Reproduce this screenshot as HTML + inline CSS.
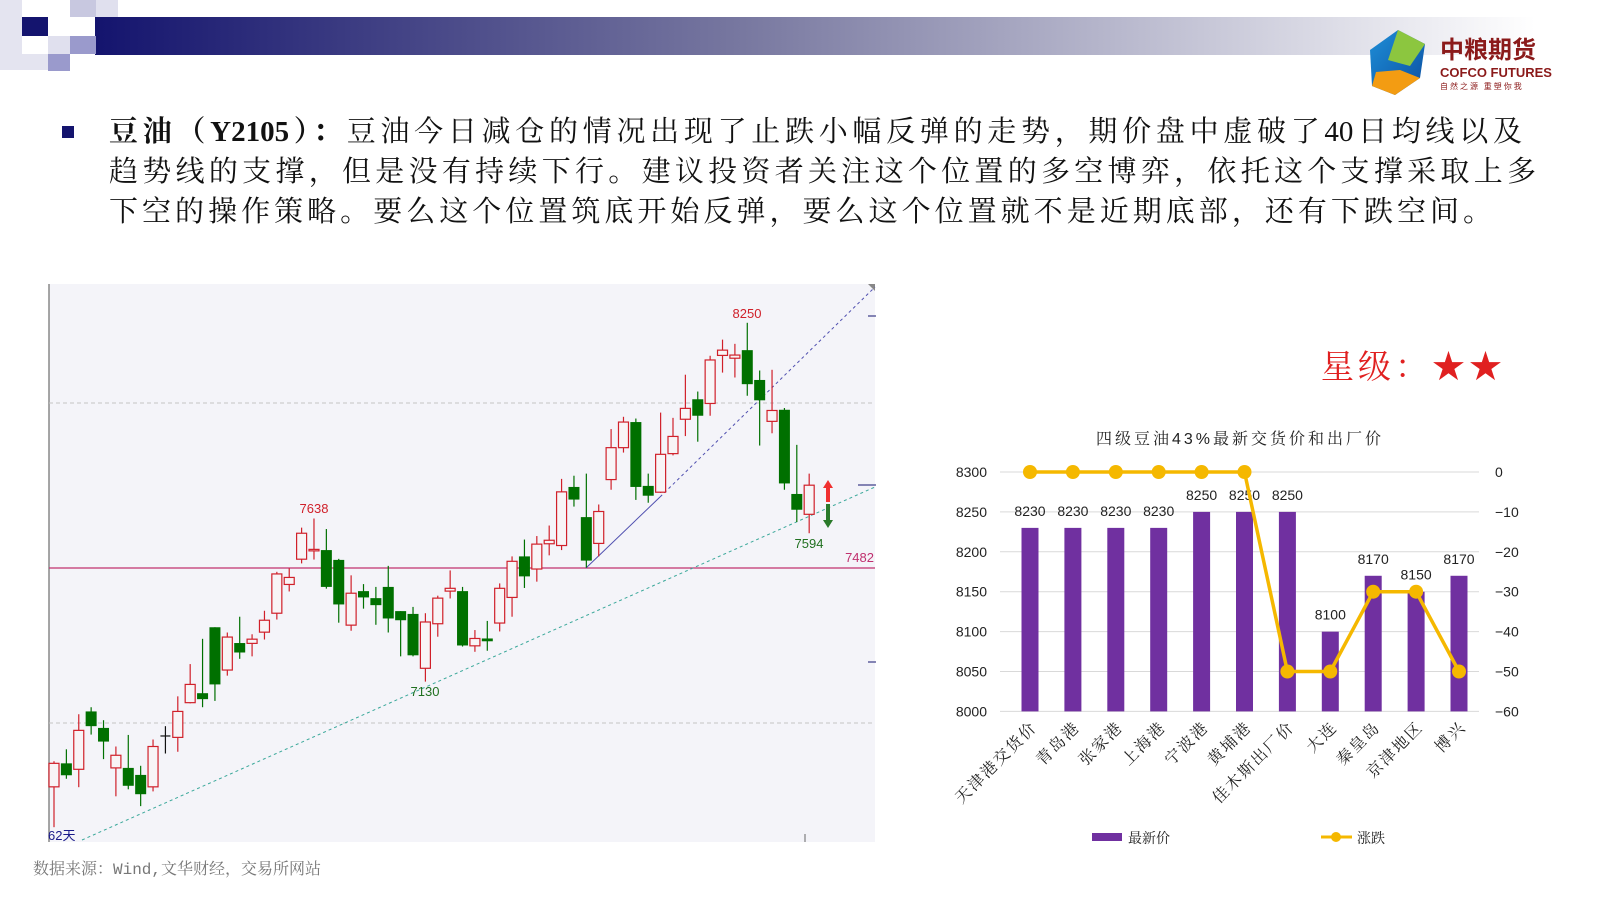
<!DOCTYPE html>
<html><head><meta charset="utf-8">
<style>
html,body{margin:0;padding:0;background:#fff;}
body{width:1600px;height:900px;overflow:hidden;position:relative;font-family:"Liberation Sans","Noto Sans CJK SC",sans-serif;}
.ln{position:absolute;left:109px;font-family:"Liberation Serif","Noto Serif CJK SC",serif;font-size:29px;color:#111;text-align:justify;text-align-last:justify;white-space:nowrap;height:40px;line-height:40px;}
</style></head>
<body>
<svg width="1600" height="900" style="position:absolute;left:0;top:0" xmlns="http://www.w3.org/2000/svg" id="s">
<defs>
<linearGradient id="hg" x1="0" x2="1" y1="0" y2="0">
<stop offset="0" stop-color="#14146e"/><stop offset="0.45" stop-color="#7878a0"/><stop offset="1" stop-color="#ffffff"/>
</linearGradient>
<linearGradient id="lg1" x1="0" x2="1" y1="0" y2="1"><stop offset="0" stop-color="#1e8fd8"/><stop offset="1" stop-color="#0b4ea0"/></linearGradient>
</defs>
<!-- header -->
<rect x="95" y="17" width="1440" height="38" fill="url(#hg)"/>
<rect x="0" y="0" width="22" height="70" fill="#e4e4f0"/>
<rect x="22" y="17" width="26" height="19" fill="#14146e"/>
<rect x="70" y="0" width="26" height="17" fill="#c8c8e0"/>
<rect x="96" y="0" width="22" height="17" fill="#e0e0ee"/>
<rect x="70" y="36" width="26" height="18" fill="#9a9acc"/>
<rect x="48" y="36" width="22" height="18" fill="#e0e0ee"/>
<rect x="48" y="54" width="22" height="17" fill="#9a9acc"/>
<rect x="22" y="54" width="26" height="16" fill="#e4e4f0"/>
<!-- logo -->
<polygon points="1398,30 1425,44 1420,78 1395,95 1372,86 1370,50" fill="url(#lg1)"/>
<polygon points="1398,30 1425,44 1410,66 1388,60" fill="#8cc63f"/>
<polygon points="1372,86 1395,95 1420,78 1400,70 1376,72" fill="#f39c12"/>
<text x="1440" y="58" font-size="24" font-weight="bold" fill="#8b1a1a" font-family="Liberation Sans,Noto Sans CJK SC,sans-serif">中粮期货</text>
<text x="1440" y="77" font-size="13" font-weight="bold" fill="#8b1a1a" font-family="Liberation Sans,sans-serif">COFCO FUTURES</text>
<text x="1440" y="89" font-size="8" fill="#8b1a1a" font-family="Noto Sans CJK SC,sans-serif" letter-spacing="2">自然之源 重塑你我</text>
<!-- bullet -->
<rect x="62" y="126" width="12" height="12" fill="#14146e"/>

<!-- candle chart -->
<rect x="49" y="284" width="826" height="558" fill="#f4f4f9"/>
<line x1="49" y1="284" x2="49" y2="842" stroke="#888" stroke-width="1.5"/>
<line x1="49" y1="403" x2="875" y2="403" stroke="#c4c4c4" stroke-dasharray="4,3"/>
<line x1="49" y1="723" x2="875" y2="723" stroke="#c4c4c4" stroke-dasharray="4,3"/>
<line x1="49" y1="568" x2="875" y2="568" stroke="#c0306e" stroke-width="1.2"/>
<line x1="868" y1="316" x2="876" y2="316" stroke="#14146e"/>
<line x1="858" y1="485" x2="876" y2="485" stroke="#14146e"/>
<line x1="868" y1="662" x2="876" y2="662" stroke="#14146e"/>
<line x1="805" y1="834" x2="805" y2="842" stroke="#666"/>
<polygon points="868,284 875,284 875,291" fill="#888"/>
<line x1="82" y1="840" x2="875" y2="487" stroke="#3aa89a" stroke-width="1" stroke-dasharray="3,3"/>
<line x1="586" y1="568" x2="660" y2="497" stroke="#5050b0" stroke-width="1"/>
<line x1="660" y1="497" x2="875" y2="287" stroke="#5050b0" stroke-width="1" stroke-dasharray="3,3"/>
<g id="candles"></g>
<g font-family="Liberation Sans,sans-serif" font-size="13">
<text x="314" y="513" fill="#d0202a" text-anchor="middle">7638</text>
<text x="747" y="318" fill="#d0202a" text-anchor="middle">8250</text>
<text x="425" y="696" fill="#207020" text-anchor="middle">7130</text>
<text x="809" y="548" fill="#207020" text-anchor="middle">7594</text>
<text x="874" y="562" fill="#c0306e" text-anchor="end">7482</text>
<text x="48" y="840" fill="#1a1a8a">62天</text>
</g>
<polygon points="828,480 833,488 830,488 830,502 826,502 826,488 823,488" fill="#f03030"/>
<polygon points="828,528 833,520 830,520 830,504 826,504 826,520 823,520" fill="#2a7a2a"/>

<!-- star rating -->
<text x="1321" y="378" font-size="33" fill="#e02020" font-family="Liberation Serif,Noto Serif CJK SC,serif" letter-spacing="4">星级：★★</text>

<!-- bar chart -->
<text x="1240" y="444" font-size="16" text-anchor="middle" fill="#222" font-family="Liberation Sans,Noto Serif CJK SC,serif" letter-spacing="3">四级豆油43%最新交货价和出厂价</text>
<g id="bars"></g>
<text x="1128" y="843" font-size="14" fill="#222" font-family="Noto Serif CJK SC,serif">最新价</text>
<rect x="1092" y="833" width="30" height="8" fill="#7030a0"/>
<line x1="1321" y1="837" x2="1352" y2="837" stroke="#f5b800" stroke-width="3"/>
<circle cx="1336" cy="837" r="5" fill="#f5b800"/>
<text x="1357" y="843" font-size="14" fill="#222" font-family="Noto Serif CJK SC,serif">涨跌</text>

<text x="33" y="874" font-size="16" fill="#777" font-family="Liberation Mono,Noto Serif CJK SC,serif">数据来源：Wind,文华财经，交易所网站</text>
</svg>

<div class="ln" style="top:112px;width:1413px;"><b>豆油（Y2105）：</b>豆油今日减仓的情况出现了止跌小幅反弹的走势，期价盘中虚破了40日均线以及</div>
<div class="ln" style="top:152px;width:1427px;">趋势线的支撑，但是没有持续下行。建议投资者关注这个位置的多空博弈，依托这个支撑采取上多</div>
<div class="ln" style="top:192px;width:1383px;">下空的操作策略。要么这个位置筑底开始反弹，要么这个位置就不是近期底部，还有下跌空间。</div>

<script>
var NS="http://www.w3.org/2000/svg";
function el(t,a,p){var e=document.createElementNS(NS,t);for(var k in a)e.setAttribute(k,a[k]);p.appendChild(e);return e;}
var C=[[1378,1445,1372,1560,'r'],[1378,1412,1338,1422,'g'],[1284,1395,1238,1446,'r'],[1230,1272,1218,1296,'g'],[1277,1316,1255,1366,'g'],[1355,1391,1330,1472,'r'],[1391,1442,1297,1452,'g'],[1411,1466,1385,1500,'g'],[1330,1445,1310,1458,'r'],[1300,1302,1272,1350,'k'],[1230,1304,1187,1345,'r'],[1153,1205,1095,1207,'r'],[1178,1195,1023,1218,'g'],[990,1153,990,1200,'g'],[1018,1112,1005,1128,'r'],[1035,1062,960,1080,'g'],[1024,1036,1010,1073,'r'],[970,1004,943,1025,'r'],[838,950,832,968,'r'],[848,868,822,888,'r'],[722,796,706,808,'r'],[768,772,680,797,'r'],[770,875,710,880,'g'],[798,925,795,977,'g'],[893,984,842,1000,'r'],[887,905,867,937,'g'],[907,927,875,983,'g'],[875,965,815,1005,'g'],[944,970,944,1073,'g'],[952,1070,932,1073,'g'],[975,1107,950,1145,'r'],[907,980,900,1017,'r'],[879,887,828,908,'r'],[887,1042,875,1045,'g'],[1022,1043,998,1060,'r'],[1022,1030,972,1057,'g'],[879,978,865,1002,'r'],[802,905,788,960,'r'],[788,845,740,878,'g'],[753,824,730,860,'r'],[742,752,700,785,'r'],[604,757,567,770,'r'],[590,626,558,646,'g'],[676,800,552,820,'g'],[660,751,640,788,'r'],[478,569,425,598,'r'],[405,478,390,492,'r'],[405,590,395,627,'g'],[587,615,552,635,'g'],[497,605,378,607,'r'],[446,495,393,500,'r'],[366,397,270,445,'r'],[340,387,318,461,'g'],[228,352,216,387,'r'],[200,215,170,264,'r'],[214,223,182,278,'r'],[200,297,122,330,'g'],[285,343,258,472,'g'],[372,403,256,437,'r'],[370,580,365,598,'g'],[610,655,470,690,'g'],[585,668,552,722,'r']];
var g=document.getElementById('candles');
function Y(z){return 280+z/2.851;}
C.forEach(function(c,i){
 var x=54+i*12.38, col=c[4]=='r'?'#d0202a':(c[4]=='g'?'#007000':'#111');
 var t=Y(c[0]),b=Y(c[1]);if(b-t<1.5)b=t+1.5;
 el('line',{x1:x,x2:x,y1:Y(c[2]),y2:Y(c[3]),stroke:col,'stroke-width':1.2},g);
 if(c[4]=='r')el('rect',{x:x-5,y:t,width:10,height:b-t,fill:'#f8f4f6',stroke:col,'stroke-width':1.2},g);
 else if(c[4]=='g')el('rect',{x:x-5.5,y:t,width:11,height:b-t,fill:col},g);
 else el('line',{x1:x-5,x2:x+5,y1:t,y2:t,stroke:col,'stroke-width':1.2},g);
});
var B=document.getElementById('bars');
var yb=function(v){return 472+(8300-v)*0.7983;};
var yr=function(v){return 472+(0-v)*3.99;};
var lv=['8300','8250','8200','8150','8100','8050','8000'];
lv.forEach(function(v,i){var y=472+i*39.9;
 el('line',{x1:1000,x2:1479,y1:y,y2:y,stroke:'#d9d9d9'},B);
 var t=el('text',{x:987,y:y+5,'font-size':14,'text-anchor':'end',fill:'#222'},B);t.textContent=v;
 var t2=el('text',{x:1495,y:y+5,'font-size':14,fill:'#222'},B);t2.textContent=i==0?'0':'\u2212'+(i*10);
});
var names=['天津港交货价','青岛港','张家港','上海港','宁波港','黄埔港','佳木斯出厂价','大连','秦皇岛','京津地区','博兴'];
var vals=[8230,8230,8230,8230,8250,8250,8250,8100,8170,8150,8170];
var chg=[0,0,0,0,0,0,-50,-50,-30,-30,-50];
var pts=[];
vals.forEach(function(v,i){var x=1030+i*42.9;
 el('rect',{x:x-8.5,y:yb(v),width:17,height:711.4-yb(v),fill:'#7030a0'},B);
 var t=el('text',{x:x,y:yb(v)-12,'font-size':14,'text-anchor':'middle',fill:'#222'},B);t.textContent=v;
 var n=el('text',{x:0,y:0,'font-size':16,'letter-spacing':2,'text-anchor':'end',fill:'#222','font-family':'Noto Serif CJK SC,serif',transform:'translate('+(x+8)+',728) rotate(-45)'},B);n.textContent=names[i];
 pts.push(x+','+yr(chg[i]));
});
el('polyline',{points:pts.join(' '),fill:'none',stroke:'#f5b800','stroke-width':3.5},B);
chg.forEach(function(v,i){el('circle',{cx:1030+i*42.9,cy:yr(v),r:7,fill:'#f5b800'},B);});
</script>
</body></html>
